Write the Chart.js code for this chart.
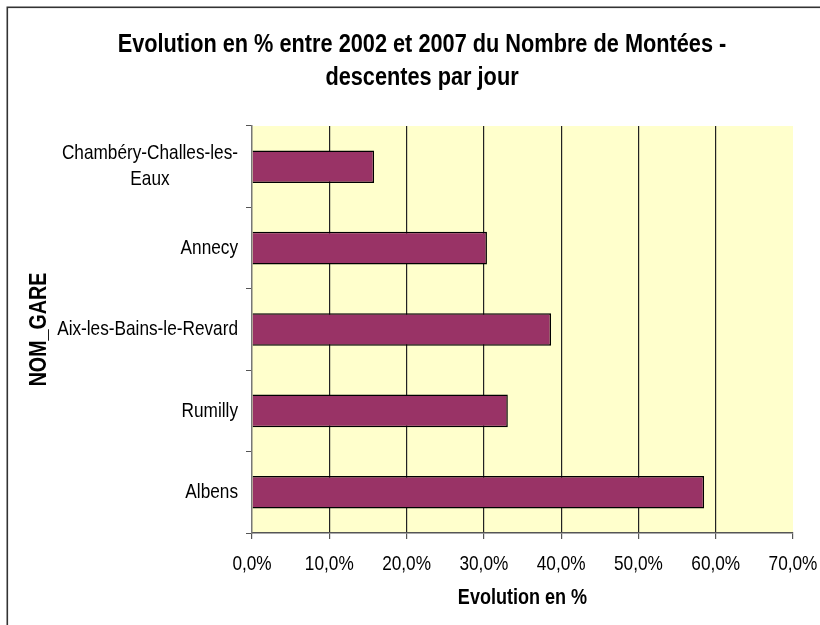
<!DOCTYPE html>
<html>
<head>
<meta charset="utf-8">
<script src="https://cdn.jsdelivr.net/npm/chart.js@4"></script>
<style>
  html, body { margin: 0; padding: 0; background: #ffffff; }
  #wrap { width: 820px; height: 625px; position: relative; }
</style>
</head>
<body>
<div id="wrap"><canvas id="c" width="820" height="625"></canvas></div>
<script>
// ---- data ----
const categories = ["Chambéry-Challes-les-Eaux", "Annecy", "Aix-les-Bains-le-Revard", "Rumilly", "Albens"];
const categoryLabelLines = [["Chambéry-Challes-les-", "Eaux"], ["Annecy"], ["Aix-les-Bains-le-Revard"], ["Rumilly"], ["Albens"]];
const evolutionValues = [15.8, 30.4, 38.7, 33.1, 58.5];
const xTickValues = [0, 10, 20, 30, 40, 50, 60, 70];
const titleLines = ["Evolution en % entre 2002 et 2007 du Nombre de Montées -", "descentes par jour"];
const xAxisTitle = "Evolution en %";
const yAxisTitle = "NOM_GARE";

// ---- styles ----
const FONT = "'Liberation Sans', Arial, sans-serif";
const PLOT_BG = "#FFFFCC";
const BAR_FILL = "#993366";
const NARROW = 0.82; // horizontal text condensing (Arial Narrow look)

const canvas = document.getElementById('c');
const ctx2d = canvas.getContext('2d');
// condensed text rendering: real text, drawn narrower along its baseline
const origFill = ctx2d.fillText.bind(ctx2d);
const origMeasure = ctx2d.measureText.bind(ctx2d);
ctx2d.fillText = function (text, x, y, maxWidth) {
  this.save();
  this.translate(x, y);
  this.scale(NARROW, 1);
  if (maxWidth !== undefined && maxWidth !== null) origFill(text, 0, 0, maxWidth / NARROW);
  else origFill(text, 0, 0);
  this.restore();
};
ctx2d.measureText = function (text) {
  const m = origMeasure(text);
  return {
    width: m.width * NARROW,
    actualBoundingBoxAscent: m.actualBoundingBoxAscent,
    actualBoundingBoxDescent: m.actualBoundingBoxDescent,
    actualBoundingBoxLeft: m.actualBoundingBoxLeft * NARROW,
    actualBoundingBoxRight: m.actualBoundingBoxRight * NARROW
  };
};

const plotBackground = {
  id: 'plotBackground',
  beforeDraw(chart) {
    const {ctx, chartArea: a} = chart;
    ctx.save();
    ctx.fillStyle = PLOT_BG;
    ctx.fillRect(a.left, a.top, a.right - a.left, a.bottom - a.top);
    ctx.restore();
  },
  afterDraw(chart) {
    const ctx = chart.ctx;
    ctx.save();
    ctx.strokeStyle = '#333333';
    ctx.lineWidth = 1.6;
    ctx.strokeRect(7.3, 7.3, 2000, 2000);
    // chart title, centred on the (wider) chart frame
    ctx.font = "bold 26.5px " + FONT;
    ctx.fillStyle = '#000';
    ctx.textAlign = 'center';
    ctx.textBaseline = 'middle';
    titleLines.forEach((t, i) => ctx.fillText(t, 422, 45 + i * 33));
    ctx.restore();
  }
};

const categoryLabels = {
  id: 'categoryLabels',
  afterDraw(chart) {
    const ys = chart.scales.y;
    const ctx = chart.ctx;
    ctx.save();
    ctx.font = "21px " + FONT;
    ctx.fillStyle = '#000';
    ctx.textAlign = 'center';
    ctx.textBaseline = 'middle';
    const rightEdge = ys.right - 6 - 8;
    const lh = 26;
    categoryLabelLines.forEach((lines, i) => {
      const yc = ys.getPixelForTick(i);
      const w = Math.max(...lines.map(l => ctx.measureText(l).width));
      const xc = rightEdge - w / 2;
      const y0 = yc - (lines.length - 1) * lh / 2;
      lines.forEach((l, j) => ctx.fillText(l, xc, y0 + j * lh));
    });
    ctx.restore();
  }
};

new Chart(canvas, {
  type: 'bar',
  data: {
    labels: categories,
    datasets: [{
      data: evolutionValues,
      backgroundColor: BAR_FILL,
      borderColor: '#000000',
      borderWidth: 1.5,
      barPercentage: 0.4,
      categoryPercentage: 1.0
    }]
  },
  options: {
    indexAxis: 'y',
    responsive: false,
    animation: false,
    devicePixelRatio: 1,
    layout: { padding: { left: 10, right: 27, top: 126, bottom: 10 } },
    plugins: {
      legend: { display: false },
      tooltip: { enabled: false },
      title: { display: false }
    },
    scales: {
      x: {
        type: 'linear',
        min: 0,
        max: 70,
        afterBuildTicks(scale) { scale.ticks = xTickValues.map(v => ({ value: v })); },
        afterFit(scale) { scale.height = 82; scale.paddingRight = 0; scale.paddingLeft = 0; },
        ticks: {
          color: '#000',
          font: { family: FONT, size: 21 },
          padding: 13,
          maxRotation: 0,
          callback: v => v.toFixed(1).replace('.', ',') + '%'
        },
        grid: {
          color: ctx => (ctx.tick && (ctx.tick.value === 0 || ctx.tick.value === 70)) ? 'rgba(0,0,0,0)' : '#222222',
          tickColor: '#555555',
          tickLength: 6,
          lineWidth: 1.2
        },
        border: { display: true, color: '#555555', width: 1.5 },
        title: {
          display: true,
          text: xAxisTitle,
          color: '#000',
          font: { family: FONT, size: 22, weight: 'bold', lineHeight: 1.2 },
          padding: { top: 0, bottom: 4 }
        }
      },
      y: {
        type: 'category',
        afterFit(scale) { scale.width = 242; },
        ticks: { display: false },
        grid: {
          drawOnChartArea: false,
          drawTicks: true,
          tickLength: 6,
          color: '#555555',
          offset: true
        },
        border: { display: true, color: '#777777', width: 1.5 },
        title: {
          display: true,
          text: yAxisTitle,
          color: '#000',
          font: { family: FONT, size: 24, weight: 'bold', lineHeight: 1.2 },
          padding: { top: 14.5, bottom: 0 }
        }
      }
    }
  },
  plugins: [plotBackground, categoryLabels]
});
</script>
</body>
</html>
